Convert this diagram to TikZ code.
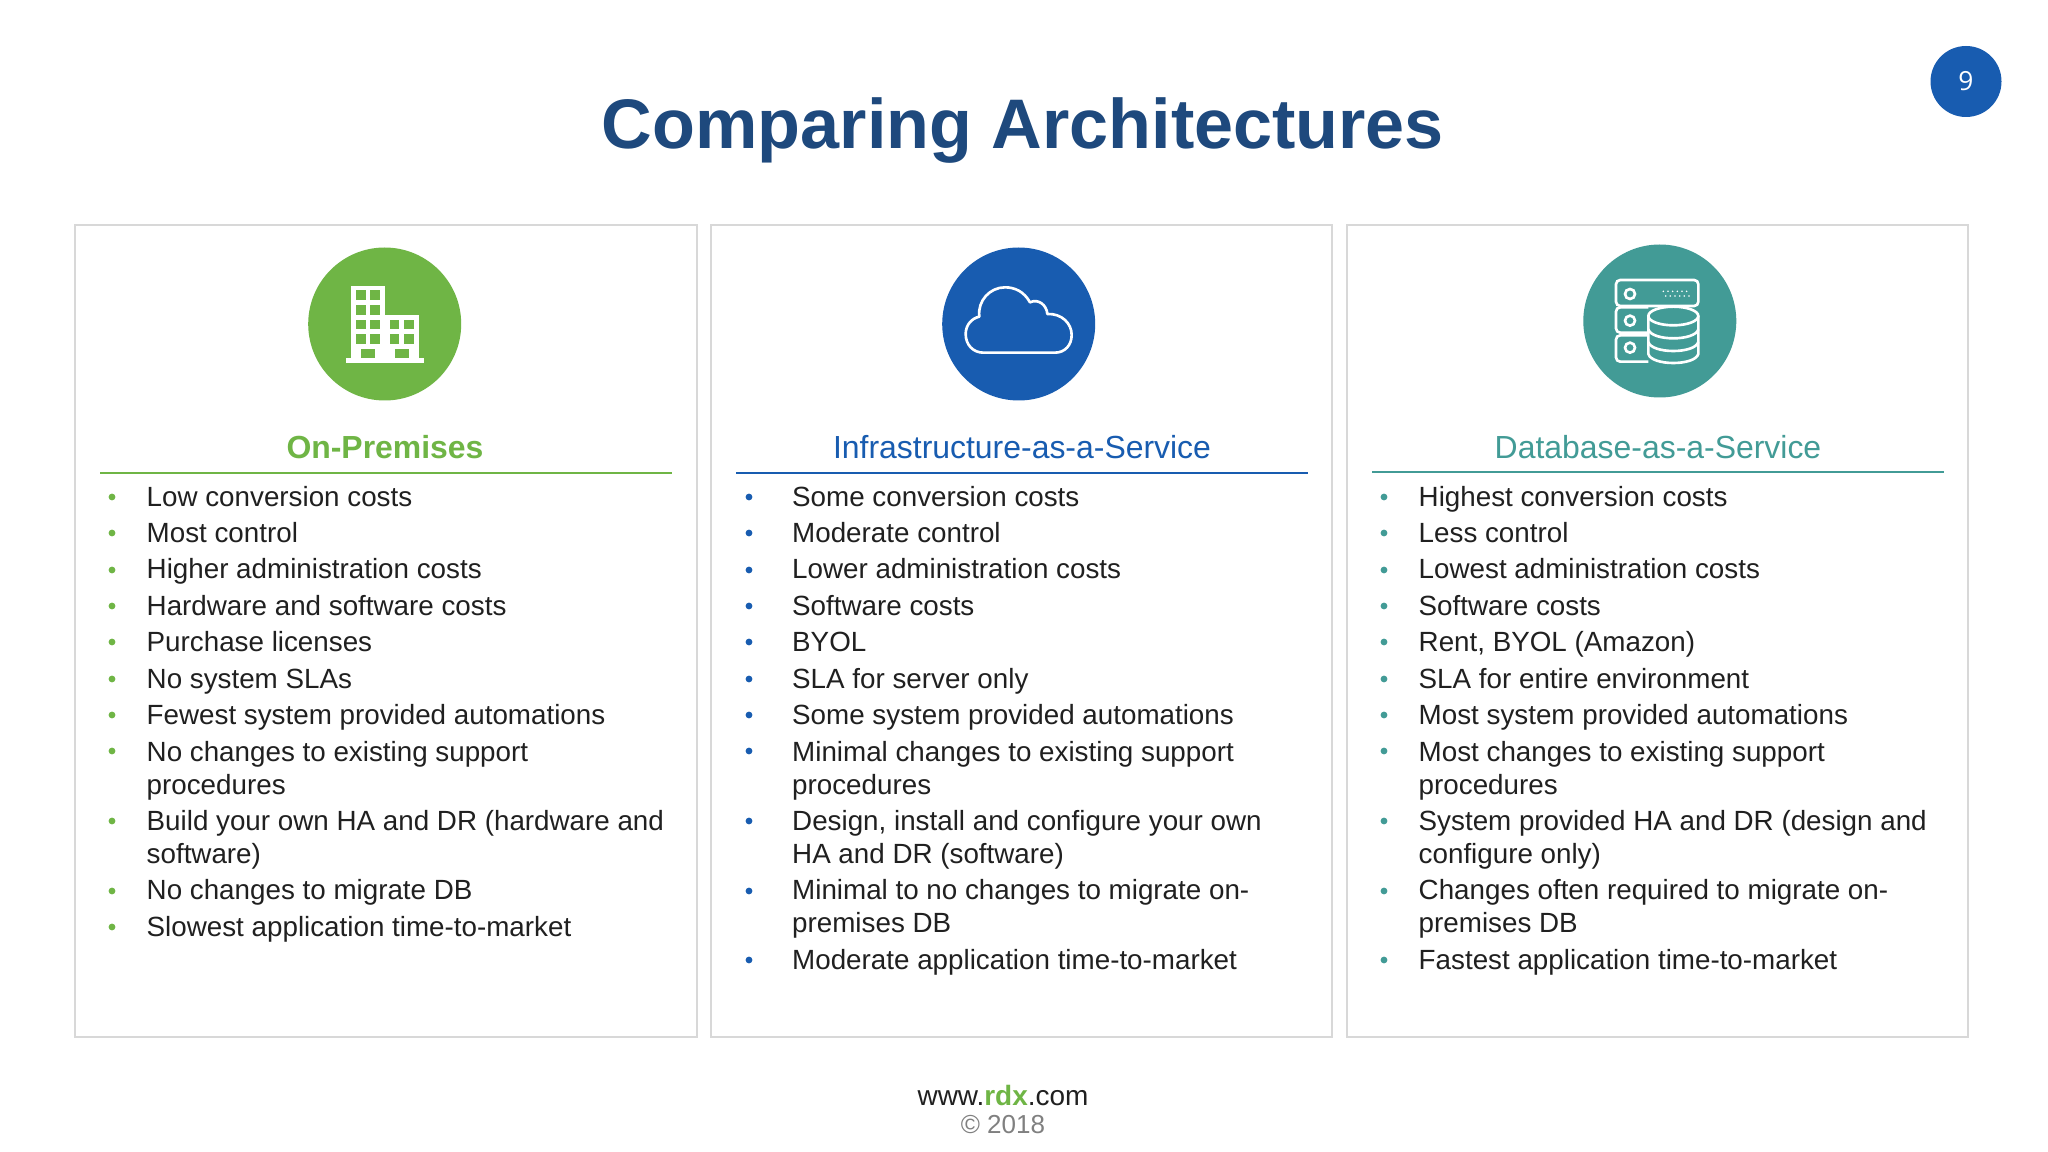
\documentclass[tikz,border=0pt]{standalone}
\usepackage{fontspec}
\setmainfont{Liberation Sans}
\newfontfamily\pagefont{Open Sans}
\usepackage{xcolor}
\definecolor{rdxgreen}{RGB}{111,181,69}
\definecolor{rdxblue}{RGB}{24,92,176}
\definecolor{rdxteal}{RGB}{66,155,150}
\definecolor{rdxnavy}{RGB}{30,73,125}
\definecolor{rdxgrey}{RGB}{216,216,216}
\definecolor{rdxtext}{RGB}{32,32,32}
\tikzset{
  panel/.style={draw=rdxgrey,line width=0.3pt},
  rowtext/.style={anchor=base west,inner sep=0pt,font=\fontsize{7.9}{10}\selectfont,text=rdxtext},
  headtext/.style={anchor=base,inner sep=0pt,font=\fontsize{9.08}{11}\selectfont},
  iconline/.style={draw=white,line width=0.75pt},
}
\begin{document}
\begin{tikzpicture}[x=0.01cm,y=-0.01cm]
\useasboundingbox (0,0) rectangle (2048,1152);
\fill[white] (0,0) rectangle (2048,1152);

% Title and page number
\node[inner sep=0pt,anchor=base,text=rdxnavy,font=\fontsize{19.95}{22}\selectfont\bfseries] (title) at (1023,149) {Comparing Architectures};
\fill[rdxblue] (1966,81.5) circle (35.5);
\node[inner sep=0pt,text=white,font=\fontsize{7.5}{9}\pagefont] (pagenum) at (1966,81) {9};

% Panels
\draw[panel] (75,225) rectangle (697,1037);
\draw[panel] (711,225) rectangle (1332,1037);
\draw[panel] (1347,225) rectangle (1968,1037);

% Green icon
\fill[rdxgreen] (384.7,324) circle (76.5);
\begin{scope}[shift={(280,230)},scale=1/3]
\fill[white] (213,167) rectangle (315,385);
\fill[white] (315,254) rectangle (416,385);
\fill[white] (198,385) rectangle (431,399);
\foreach \wy in {181,225,269,313} {
  \fill[rdxgreen] (228,\wy) rectangle +(29,29);
  \fill[rdxgreen] (271,\wy) rectangle +(29,29);
}
\foreach \wy in {269,313} {
  \fill[rdxgreen] (329,\wy) rectangle +(29,29);
  \fill[rdxgreen] (373,\wy) rectangle +(29,29);
}
\fill[rdxgreen] (242,357) rectangle (286,385);
\fill[rdxgreen] (344,357) rectangle (387,385);
\end{scope}

% Blue icon
\fill[rdxblue] (1018.7,324) circle (76.5);
\begin{scope}[shift={(920,230)},scale=1/3]
\draw[iconline,line join=round] (190,368) -- (405,368)
  .. controls (435,368) and (455,345) .. (455,315)
  .. controls (455,280) and (425,250) .. (382,252)
  .. controls (380,225) and (355,205) .. (330,217)
  .. controls (312,185) and (285,172) .. (255,172)
  .. controls (210,172) and (172,212) .. (178,260)
  .. controls (155,265) and (137,285) .. (137,312)
  .. controls (137,345) and (160,368) .. (190,368) -- cycle;
\end{scope}

% Teal icon
\fill[rdxteal] (1659.8,321) circle (76.5);
\begin{scope}[shift={(1570,230)},scale=1/3]
\draw[iconline,rounded corners=1.2pt] (138,150) rectangle (385,228);
\draw[iconline,rounded corners=1.2pt] (235,232) -- (138,232) -- (138,308) -- (235,308);
\draw[iconline,rounded corners=1.2pt] (235,316) -- (138,316) -- (138,395) -- (235,395);
\foreach \hy in {192,272,353} {
  \draw[iconline] (180,\hy) circle (15);
}
\foreach \dx in {280,294,308,322,336,350} {
  \fill[white] (\dx,184) circle (2.6);
  \fill[white] (\dx+7,198) circle (2.6);
}
\draw[iconline] (310,258) ellipse (75 and 28);
\draw[iconline] (235,258) -- (235,372) .. controls (245,408) and (375,408) .. (385,372) -- (385,258);
\draw[iconline] (235,298) .. controls (245,334) and (375,334) .. (385,298);
\draw[iconline] (235,336) .. controls (245,372) and (375,372) .. (385,336);
\end{scope}

% Headings
\node[headtext,text=rdxgreen,font=\fontsize{9.08}{11}\selectfont\bfseries] (onprem) at (385,458.5) {On-Premises};
\node[headtext,text=rdxblue] (iaas) at (1022,458.5) {Infrastructure-as-a-Service};
\node[headtext,text=rdxteal] (dbaas) at (1658,458.5) {Database-as-a-Service};
\draw[rdxgreen,line width=0.4pt] (100,473) -- (672,473);
\draw[rdxblue,line width=0.4pt] (736,473) -- (1308,473);
\draw[rdxteal,line width=0.4pt] (1372,472) -- (1944,472);

% Bullets
\foreach \by in {497,533,570,606,642,679,715,751,821,891,927} {
  \fill[rdxgreen] (112,\by) circle (3.4);
}
\foreach \by in {497,533,570,606,642,679,715,751,821,891,960} {
  \fill[rdxblue] (749,\by) circle (3.4);
  \fill[rdxteal] (1384,\by) circle (3.4);
}

% On-Premises rows
\foreach \ty/\txt [count=\n] in {
  507/Low conversion costs,
  543/Most control,
  579/Higher administration costs,
  616/Hardware and software costs,
  652/Purchase licenses,
  688/No system SLAs,
  724/Fewest system provided automations,
  761/No changes to existing support,
  794/procedures,
  830/Build your own HA and DR (hardware and,
  863/software),
  899/No changes to migrate DB,
  936/Slowest application time-to-market} {
  \node[rowtext] (onprem\n) at (146,\ty) {\txt};
}

% IaaS rows
\foreach \ty/\txt [count=\n] in {
  507/Some conversion costs,
  543/Moderate control,
  579/Lower administration costs,
  616/Software costs,
  652/BYOL,
  688/SLA for server only,
  724/Some system provided automations,
  761/Minimal changes to existing support,
  794/procedures,
  830/{Design, install and configure your own},
  863/HA and DR (software),
  899/Minimal to no changes to migrate on-,
  932/premises DB,
  969/Moderate application time-to-market} {
  \node[rowtext] (iaas\n) at (791.5,\ty) {\txt};
}

% DBaaS rows
\foreach \ty/\txt [count=\n] in {
  507/Highest conversion costs,
  543/Less control,
  579/Lowest administration costs,
  616/Software costs,
  652/{Rent, BYOL (Amazon)},
  688/SLA for entire environment,
  724/Most system provided automations,
  761/Most changes to existing support,
  794/procedures,
  830/System provided HA and DR (design and,
  863/configure only),
  899/Changes often required to migrate on-,
  932/premises DB,
  969/Fastest application time-to-market} {
  \node[rowtext] (dbaas\n) at (1418,\ty) {\txt};
}

% Footer
\node[inner sep=0pt,anchor=base,text=rdxtext,font=\fontsize{7.95}{10}\selectfont] (site) at (1003,1105) {www.\textcolor{rdxgreen}{\textbf{rdx}}.com};
\node[inner sep=0pt,anchor=base,text=gray,font=\fontsize{7.4}{9}\selectfont] (copy) at (1003,1133) {\textcopyright{} 2018};
\end{tikzpicture}
\end{document}
